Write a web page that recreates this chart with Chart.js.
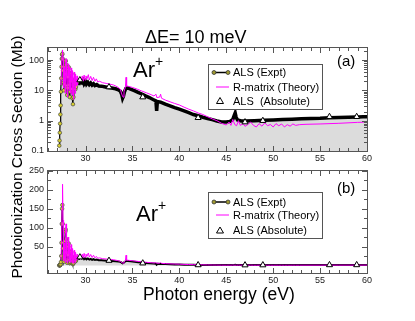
<!DOCTYPE html>
<html>
<head>
<meta charset="utf-8">
<script src="https://cdn.jsdelivr.net/npm/chart.js@4.4.1/dist/chart.umd.min.js"></script>
<style>
  body { margin: 0; background: #fff; }
  #wrap { position: relative; width: 415px; height: 321px; font-family: 'Liberation Sans', Arial, sans-serif; color: #000; }
  canvas { position: absolute; left: 0; }
  .txt { position: absolute; white-space: nowrap; }
  .legend { position: absolute; box-sizing: border-box; border: 1px solid #555; background: #fff; font-size: 11px; }
  .legend .row { position: absolute; left: 24px; line-height: 12px; }
  .legend svg { position: absolute; left: 0; top: 0; }
  .ar { font-size: 22px; }
  .ar sup { font-size: 14px; position: relative; top: -3px; }
</style>
</head>
<body>
<div id="wrap">
  <canvas id="top" width="415" height="170" style="top:0"></canvas>
  <canvas id="bottom" width="415" height="161" style="top:160px"></canvas>

  <div class="txt" style="left:145px; top:27px; font-size:18px;">&Delta;E= 10 meV</div>
  <div class="txt" style="left:-133px; top:147px; width:300px; text-align:center; font-size:15.5px; line-height:20px; transform:rotate(-90deg);">Photoionization Cross Section (Mb)</div>
  <div class="txt" style="left:143px; top:284px; font-size:17.5px;">Photon energy (eV)</div>

  <div class="txt ar" style="left:133px; top:56px;">Ar<sup>+</sup></div>
  <div class="txt ar" style="left:136px; top:200px;">Ar<sup>+</sup></div>
  <div class="txt" style="left:337px; top:52px; font-size:15px;">(a)</div>
  <div class="txt" style="left:337px; top:179px; font-size:15px;">(b)</div>

  <div class="legend" style="left:208px; top:64px; width:115px; height:46px;">
    <svg width="24" height="44">
      <line x1="5" y1="7.5" x2="19" y2="7.5" stroke="#000" stroke-width="1.5"/>
      <circle cx="5" cy="7.5" r="2" fill="#a09a30" stroke="#333" stroke-width="0.8"/>
      <circle cx="19" cy="7.5" r="2" fill="#a09a30" stroke="#333" stroke-width="0.8"/>
      <line x1="7" y1="22" x2="20" y2="22" stroke="#ff00ff" stroke-width="1"/>
      <polygon points="11,32.5 14.5,38.5 7.5,38.5" fill="#fff" stroke="#000" stroke-width="1"/>
    </svg>
    <div class="row" style="top:1px;">ALS (Expt)</div>
    <div class="row" style="top:15.5px;">R-matrix (Theory)</div>
    <div class="row" style="top:29.5px;">ALS&nbsp; (Absolute)</div>
  </div>

  <div class="legend" style="left:208px; top:192px; width:115px; height:47px;">
    <svg width="24" height="45">
      <line x1="5" y1="9" x2="19" y2="9" stroke="#000" stroke-width="1.5"/>
      <circle cx="5" cy="9" r="2" fill="#a09a30" stroke="#333" stroke-width="0.8"/>
      <circle cx="19" cy="9" r="2" fill="#a09a30" stroke="#333" stroke-width="0.8"/>
      <line x1="7" y1="22" x2="20" y2="22" stroke="#ff00ff" stroke-width="1"/>
      <polygon points="11,34 14.5,40 7.5,40" fill="#fff" stroke="#000" stroke-width="1"/>
    </svg>
    <div class="row" style="top:2.5px;">ALS (Expt)</div>
    <div class="row" style="top:15.5px;">R-matrix (Theory)</div>
    <div class="row" style="top:30.5px;">ALS (Absolute)</div>
  </div>
</div>

<script>
// ALS experiment (photon energy eV, cross section Mb)
const exptEnergy = [27.20, 27.23, 27.26, 27.29, 27.32, 27.35, 27.38, 27.41, 27.44, 27.47,
  27.50, 27.53, 27.57, 27.61, 27.65, 27.69, 27.73, 27.77, 27.81, 27.85,
  27.89, 27.93, 27.97, 28.01, 28.05, 28.09, 28.13, 28.17, 28.21, 28.25,
  28.29, 28.33, 28.37, 28.41, 28.45, 28.49, 28.53, 28.57, 28.61, 28.66,
  28.71, 28.76, 28.81, 28.86, 28.92, 28.98, 29.05, 29.12, 29.20, 29.30,
  29.45, 29.60, 29.75, 29.85, 30.00, 30.10, 30.25, 30.40, 30.55, 30.70,
  30.85, 31.00, 31.20, 31.40, 31.70, 32.00, 32.40, 32.80, 33.20, 33.50,
  33.70, 33.85, 33.95, 34.05, 34.15, 34.30, 34.50, 34.80, 35.20, 35.60,
  36.00, 36.40, 36.80, 37.20, 37.50, 37.58, 37.66, 38.00, 38.50,
  39.00, 39.50, 40.00, 40.50, 41.00, 41.50, 42.00, 42.50, 43.00, 43.50,
  44.00, 44.50, 45.00, 45.40, 45.70, 45.85, 45.95, 46.05, 46.20, 46.60,
  47.00, 48.00, 49.00, 50.00, 51.00, 52.00, 53.00, 54.00, 55.00, 56.00,
  57.00, 58.00, 59.00, 59.60, 60.00];
const exptValue = [0.15, 0.22, 0.4, 0.8, 1.6, 3.2, 9, 25, 60, 110,
  150, 160, 110, 45, 18, 10, 16, 35, 65, 90,
  95, 70, 35, 14, 7, 12, 28, 50, 58, 38,
  15, 6, 9, 20, 33, 36, 24, 11, 5.5, 3.5,
  6, 14, 20, 17, 11, 13, 18, 20, 17, 19,
  20, 18, 21, 16.5, 19.5, 16, 18.5, 15.5, 17.5, 15,
  16.5, 14.5, 15.5, 14, 13.8, 13.2, 12.5, 12, 11.3, 10.5,
  9.5, 7.5, 5.5, 6.5, 9, 11.5, 12, 11, 9.8, 8.6,
  7.6, 6.6, 5.8, 5, 4.5, 2.1, 4.3, 4.1, 3.5,
  3.1, 2.7, 2.4, 2.1, 1.85, 1.6, 1.45, 1.3, 1.18, 1.08,
  0.98, 0.9, 0.9, 0.95, 1.1, 1.5, 1.8, 1.3, 1.05, 0.98,
  0.97, 1.0, 1.03, 1.06, 1.1, 1.12, 1.15, 1.18, 1.2, 1.24,
  1.27, 1.3, 1.33, 1.36, 1.35];

// R-matrix theory
const theoryEnergy = [27.38, 27.44, 27.50, 27.55, 27.60, 27.64, 27.68, 27.72, 27.76, 27.80,
  27.84, 27.88, 27.92, 27.96, 28.00, 28.04, 28.08, 28.12, 28.16, 28.20,
  28.24, 28.28, 28.32, 28.36, 28.40, 28.44, 28.48, 28.52, 28.56, 28.60,
  28.64, 28.68, 28.72, 28.76, 28.80, 28.84, 28.88, 28.92, 28.96, 29.00,
  29.05, 29.10, 29.15, 29.20, 29.30, 29.40, 29.55, 29.65, 29.75, 29.85,
  29.95, 30.05, 30.15, 30.30, 30.40, 30.55, 30.70, 30.85, 31.00, 31.15,
  31.30, 31.50, 31.80, 32.20, 32.60, 33.00, 33.40, 33.70, 33.90, 34.00,
  34.10, 34.25, 34.32, 34.38, 34.60, 35.00, 35.50, 36.00, 36.50, 37.00,
  37.30, 37.50, 37.60, 37.90, 38.00, 38.10, 38.50, 39.00, 39.50, 40.00,
  40.50, 41.00, 41.50, 42.00, 42.50, 43.00, 43.50, 44.00, 44.50, 45.00,
  45.30, 45.50, 45.70, 45.90, 46.10, 46.30, 46.50, 46.80, 47.00, 47.30,
  47.60, 47.90, 48.20, 48.50, 48.80, 49.10, 49.40, 49.70, 50.00, 50.30,
  50.60, 50.90, 51.20, 51.50, 51.80, 52.10, 52.40, 52.80, 53.50, 55.00,
  57.00, 59.00, 60.00];
const theoryValue = [15, 60, 150, 215, 120, 40, 12, 25, 60, 20,
  8, 45, 110, 80, 30, 10, 6, 40, 75, 30,
  10, 20, 60, 25, 8, 30, 55, 20, 7, 25,
  45, 15, 5, 20, 40, 18, 8, 25, 35, 14,
  22, 30, 15, 25, 22, 20, 22, 30, 20, 32,
  22, 30, 24, 33, 22, 29, 21, 27, 20, 24,
  19, 20, 18, 17, 16, 15, 13, 11, 7, 6,
  9, 13, 27, 14, 13.5, 12.5, 11, 9.5, 8.3, 7.2,
  6.5, 7.5, 5.8, 6, 7.5, 5.5, 4.8, 4.2, 3.7, 3.3,
  2.8, 2.4, 2.1, 1.8, 1.6, 1.35, 1.15, 1.0, 0.82, 0.72,
  0.9, 0.7, 1.1, 0.75, 0.68, 1.0, 0.7, 0.8, 0.65, 0.75,
  0.9, 0.7, 0.62, 0.8, 0.66, 0.85, 0.68, 0.75, 0.62, 0.8,
  0.68, 0.78, 0.62, 0.74, 0.66, 0.78, 0.7, 0.74, 0.76, 0.78,
  0.82, 0.88, 0.9];

// ALS absolute measurements
const absEnergy = [29.4, 32.5, 36.1, 42.0, 47.0, 48.9, 56.0, 58.9];
const absValue = [22, 12.9, 6, 1.25, 0.9, 1.0, 1.35, 1.35];

// axis ticks
const xMin = 26, xMax = 60;
const xLabelStep = 5;
const topYMin = 0.1, topYMax = 250;
const bottomYMin = -20, bottomYMax = 250;
const bottomYLabelStep = 50, bottomYMinorStep = 25;

const pts = (xs, ys) => xs.map((x, i) => ({ x: x, y: ys[i] }));

Chart.defaults.font.family = "'Liberation Sans', Arial, sans-serif";
Chart.defaults.color = '#222';

const isPow10 = v => Math.abs(Math.log10(v) - Math.round(Math.log10(v))) < 1e-6;
const isIntMantissa = v => {
  const m = v / Math.pow(10, Math.floor(Math.log10(v) + 1e-9));
  return Math.abs(m - Math.round(m)) < 1e-6;
};

// frame + inward tick marks on all four sides
function frameTicks(isMajorY, isMinorY) {
  return {
    id: 'frameTicks',
    afterDraw(chart) {
      const { ctx, chartArea: a, scales } = chart;
      ctx.save();
      ctx.strokeStyle = '#555';
      ctx.lineWidth = 1;
      ctx.strokeRect(a.left - 0.5, a.top - 0.5, a.right - a.left + 1, a.bottom - a.top + 1);
      ctx.beginPath();
      scales.x.ticks.forEach(t => {
        const v = t.value;
        if (Math.abs(v - Math.round(v)) > 1e-6) return;
        const len = Math.round(v) % xLabelStep === 0 ? 5 : 3;
        const px = Math.round(scales.x.getPixelForValue(v)) + 0.5;
        ctx.moveTo(px, a.bottom); ctx.lineTo(px, a.bottom - len);
        ctx.moveTo(px, a.top); ctx.lineTo(px, a.top + len);
      });
      scales.y.ticks.forEach(t => {
        const v = t.value;
        let len = 0;
        if (isMajorY(v)) len = 5; else if (isMinorY(v)) len = 3;
        if (!len) return;
        const py = Math.round(scales.y.getPixelForValue(v)) + 0.5;
        ctx.moveTo(a.left, py); ctx.lineTo(a.left + len, py);
        ctx.moveTo(a.right, py); ctx.lineTo(a.right - len, py);
      });
      ctx.stroke();
      ctx.restore();
    }
  };
}

function xAxis(height) {
  return {
    type: 'linear', min: xMin, max: xMax,
    grid: { display: false, drawTicks: false }, border: { display: false },
    ticks: {
      stepSize: 1, autoSkip: false, maxRotation: 0, padding: 2,
      font: { size: 9 },
      callback: v => (v % xLabelStep === 0 ? String(v) : '')
    },
    afterFit: s => { s.height = height; }
  };
}

function datasets(exptWidth, exptFill) {
  return [
    {
      label: 'ALS (Absolute)', data: pts(absEnergy, absValue), showLine: false,
      pointStyle: 'triangle', pointRadius: 3.5, pointBackgroundColor: '#fff',
      pointBorderColor: '#000', pointBorderWidth: 1, order: 0
    },
    {
      label: 'R-matrix (Theory)', data: pts(theoryEnergy, theoryValue),
      borderColor: '#ff00ff', borderWidth: 1, pointRadius: 0, order: 1
    },
    {
      label: 'ALS (Expt)', data: pts(exptEnergy, exptValue),
      borderColor: '#000',
      segment: { borderWidth: c => (c.p0.parsed.x < 29.2 ? 1.2 : exptWidth) },
      fill: exptFill, backgroundColor: '#dcdcdc',
      pointRadius: c => (c.raw && c.raw.x < 29.2 ? 1.8 : 0),
      pointBackgroundColor: '#d8d030', pointBorderColor: '#444', pointBorderWidth: 0.7,
      order: 2
    }
  ];
}

new Chart(document.getElementById('top'), {
  type: 'line',
  data: { datasets: datasets(3.5, 'start') },
  options: {
    responsive: false, animation: false, devicePixelRatio: 1,
    layout: { padding: { left: 0, right: 48, top: 48, bottom: 0 } },
    plugins: { legend: { display: false }, tooltip: { enabled: false }, filler: { drawTime: 'beforeDatasetsDraw' } },
    scales: {
      x: xAxis(19),
      y: {
        type: 'logarithmic', min: topYMin, max: topYMax,
        grid: { display: false, drawTicks: false }, border: { display: false },
        ticks: { autoSkip: false, padding: 4, font: { size: 9 }, callback: v => (isPow10(v) ? String(v) : '') },
        afterFit: s => { s.width = 48; }
      }
    }
  },
  plugins: [frameTicks(isPow10, isIntMantissa)]
});

new Chart(document.getElementById('bottom'), {
  type: 'line',
  data: { datasets: datasets(2, 'origin') },
  options: {
    responsive: false, animation: false, devicePixelRatio: 1,
    layout: { padding: { left: 0, right: 48, top: 11, bottom: 0 } },
    plugins: { legend: { display: false }, tooltip: { enabled: false }, filler: { drawTime: 'beforeDatasetsDraw' } },
    scales: {
      x: xAxis(48),
      y: {
        type: 'linear', min: bottomYMin, max: bottomYMax,
        grid: { display: false, drawTicks: false }, border: { display: false },
        ticks: {
          stepSize: bottomYMinorStep, autoSkip: false, padding: 4, font: { size: 9 },
          callback: v => (v >= 0 && v % bottomYLabelStep === 0 ? String(v) : '')
        },
        afterFit: s => { s.width = 48; }
      }
    }
  },
  plugins: [frameTicks(v => v >= 0 && v % bottomYLabelStep === 0, v => v >= 0 && v % bottomYMinorStep === 0)]
});
</script>
</body>
</html>
